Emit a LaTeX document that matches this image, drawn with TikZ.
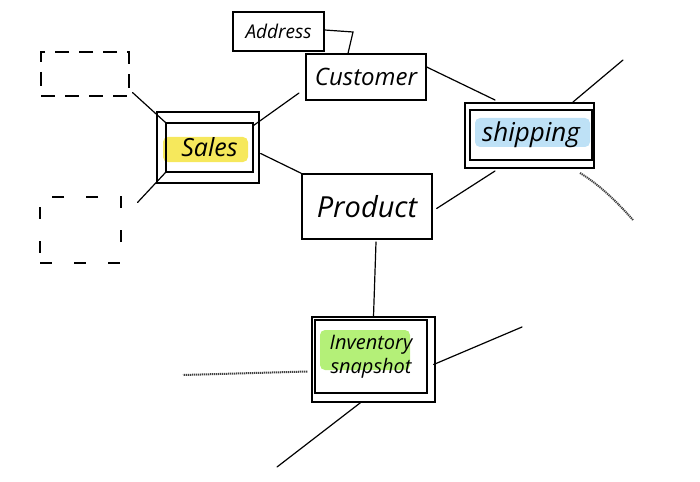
\documentclass[tikz,border=0pt]{standalone}
\usepackage{fontspec}
\setmainfont{Open Sans}
\begin{document}
\begin{tikzpicture}[x=1pt,y=-1pt,
  box/.style={draw,line width=1.3pt,inner sep=0pt,rectangle},
  ibox/.style={draw,line width=1.1pt,inner sep=0pt,rectangle},
  dbox/.style={draw,line width=1.2pt,dash pattern=on 14pt off 10pt,inner sep=0pt,rectangle},
  conn/.style={line width=1.2pt,line cap=round},
  sketch/.style={line width=2pt,dash pattern=on 1.2pt off 0.8pt,black!75},
  hl/.style={rounded corners=5pt,draw=none}]
\useasboundingbox (0,0) rectangle (700,481);
\definecolor{hlyellow}{RGB}{246,232,92}
\definecolor{hlblue}{RGB}{190,225,246}
\definecolor{hlgreen}{RGB}{180,240,120}
% highlights
\fill[hlyellow,hl] (163,137) rectangle (248,162);
\fill[hlblue,hl] (475,118) rectangle (590,147);
\fill[hlgreen,hl] (320,330) rectangle (410,370);
% boxes
\node[box,minimum width=91pt,minimum height=39pt,font=\fontsize{19}{21}\selectfont\itshape] (addr) at (278.5,31.5) {Address};
\node[box,minimum width=120pt,minimum height=46pt,font=\fontsize{24}{26}\selectfont\itshape] (cust) at (366,77) {Customer};
\node[box,minimum width=130pt,minimum height=65pt,font=\fontsize{29}{31}\selectfont\itshape] (prod) at (367,206.5) {Product};
\node[box,minimum width=102pt,minimum height=71pt] (salesout) at (208,147.5) {};
\node[ibox,minimum width=87pt,minimum height=49pt,font=\fontsize{25}{27}\selectfont\itshape] (salesin) at (209.5,147.5) {Sales};
\node[box,minimum width=129pt,minimum height=65pt] (shipout) at (529.5,135.5) {};
\node[ibox,minimum width=122pt,minimum height=50pt,font=\fontsize{26}{28}\selectfont\itshape] (shipin) at (531,135) {shipping};
\node[box,minimum width=123pt,minimum height=85pt] (invout) at (373.5,359.5) {};
\node[ibox,minimum width=112pt,minimum height=73pt,align=center,font=\fontsize{20}{24}\selectfont\itshape] (invin) at (371,356.5) {Inventory\\snapshot};
\node[dbox,minimum width=88pt,minimum height=44pt] (dtl) at (85,74) {};
\node[dbox,minimum width=81pt,minimum height=66pt,dash pattern=on 12pt off 22pt] (dbl) at (80.5,230) {};
% free ends
\coordinate (shipne) at (623,60);
\coordinate (shipse) at (633,220);
\coordinate (invne) at (522,327);
\coordinate (invsw) at (277,467);
\coordinate (invw) at (183,375);
% connectors
\draw[conn] (addr.east |- 0,30) -- (353,32) -- (cust.north -| 348,0);
\draw[conn] (dtl.south east) ++(3,-4) -- (salesin.north west);
\draw[conn] (dbl.north east) ++(16,6) -- (salesin.south west);
\draw[conn] (salesin.north east) ++(0,3) -- (299,93);
\draw[conn] (salesout.east) ++(1,6) -- (prod.north west);
\draw[conn] (cust.east) ++(0,-10) -- (495,100);
\draw[conn] (prod.east) ++(4,2) -- (495,171);
\draw[conn] (573,102) -- (shipne);
\draw[conn] (376,242) -- (invout.north);
\draw[conn] (invout.east) ++(-2,5) -- (invne);
\draw[conn] (invout.south) ++(-13,0) -- (invsw);
\draw[sketch] (580,173) .. controls (600,185) and (618,203) .. (shipse);
\draw[sketch] (invout.west) ++(-4,12) -- (invw);
\end{tikzpicture}
\end{document}
